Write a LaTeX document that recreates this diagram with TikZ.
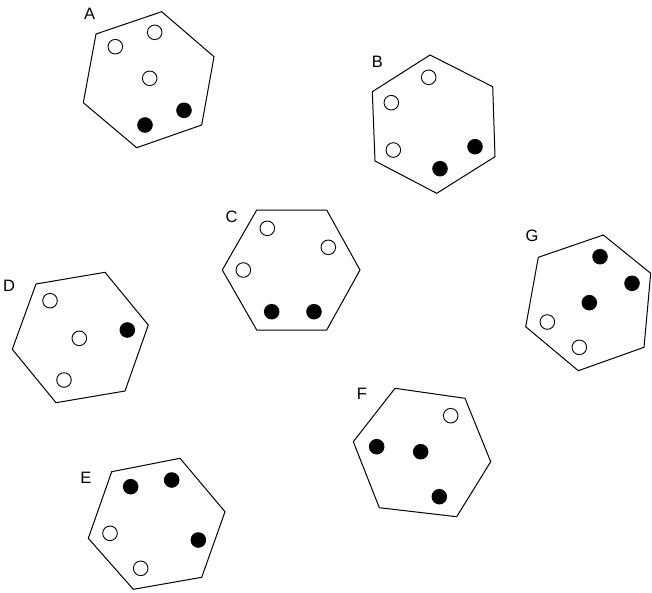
\documentclass[tikz,border=0pt]{standalone}
\usepackage{fontspec}
\setmainfont{Liberation Sans}
\begin{document}
\begin{tikzpicture}[x=1pt,y=-1pt,
  hexa/.style={draw=black,line width=1pt,line join=miter},
  wdot/.style={draw=black,fill=white,line width=0.9pt},
  bdot/.style={draw=black,fill=black,line width=0.9pt},
  lbl/.style={font=\fontsize{16.5}{16.5}\selectfont,inner sep=0pt,anchor=center}]
\useasboundingbox (0,0) rectangle (652,592);
% A
\draw[hexa] (96,34) -- (161.7,11.7) -- (214,56.7) -- (201.7,125) -- (136.7,147.7) -- (83.3,102.7) -- cycle;
\node[lbl] (labA) at (89.7,13.7) {A};
\draw[wdot] (115.3,46.7) circle (7.3);
\draw[wdot] (154.7,32.3) circle (7.3);
\draw[wdot] (149.7,78.3) circle (7.3);
\draw[bdot] (145,125) circle (7.3);
\draw[bdot] (184,110.3) circle (7.3);
% B
\draw[hexa] (430,55) -- (492.7,86.7) -- (495,156.7) -- (436.7,193.3) -- (375,161) -- (372.3,91.7) -- cycle;
\node[lbl] (labB) at (377.3,61.5) {B};
\draw[wdot] (428.7,77.3) circle (7.3);
\draw[wdot] (391.3,102.7) circle (7.3);
\draw[wdot] (393.3,150) circle (7.3);
\draw[bdot] (440,168.7) circle (7.3);
\draw[bdot] (475,146.7) circle (7.3);
% C
\draw[hexa] (256.7,210) -- (326.7,210) -- (360,270) -- (326.7,330) -- (256.7,330) -- (222.3,270) -- cycle;
\node[lbl] (labC) at (231.7,216.7) {C};
\draw[wdot] (267.3,228.3) circle (7.3);
\draw[wdot] (328.3,247.3) circle (7.3);
\draw[wdot] (243.3,270) circle (7.3);
\draw[bdot] (271.7,311.7) circle (7.3);
\draw[bdot] (314,311.7) circle (7.3);
% D
\draw[hexa] (36,284) -- (105,272.3) -- (148.3,325) -- (125,391) -- (56,402.7) -- (12.3,349.3) -- cycle;
\node[lbl] (labD) at (9,285.7) {D};
\draw[wdot] (50,300.7) circle (7.3);
\draw[wdot] (79.3,338.3) circle (7.3);
\draw[wdot] (64,380) circle (7.3);
\draw[bdot] (127.3,330) circle (7.3);
% G
\draw[hexa] (538.3,257.3) -- (603.3,235) -- (650.7,273.3) -- (644,347.3) -- (578.3,370.7) -- (525.7,326.7) -- cycle;
\node[lbl] (labG) at (532,236.3) {G};
\draw[bdot] (600,256.7) circle (7.3);
\draw[bdot] (632,283.3) circle (7.3);
\draw[bdot] (589.3,302.7) circle (7.3);
\draw[wdot] (547.3,322) circle (7.3);
\draw[wdot] (579.3,347.3) circle (7.3);
% F
\draw[hexa] (395,388.3) -- (465,398.3) -- (490.7,461.7) -- (456.7,516.7) -- (379.3,507.7) -- (353.3,441.7) -- cycle;
\node[lbl] (labF) at (362,394) {F};
\draw[wdot] (450.7,415.7) circle (7.3);
\draw[bdot] (376.7,446.7) circle (7.3);
\draw[bdot] (420.7,451.7) circle (7.3);
\draw[bdot] (439.3,496.7) circle (7.3);
% E
\draw[hexa] (111.7,471.7) -- (180,458.3) -- (225,511.7) -- (201.7,577.3) -- (133.3,589.3) -- (88.3,538.3) -- cycle;
\node[lbl] (labE) at (85.8,477.5) {E};
\draw[bdot] (130.7,486.7) circle (7.3);
\draw[bdot] (171.7,480) circle (7.3);
\draw[bdot] (198.3,540) circle (7.3);
\draw[wdot] (110,533.3) circle (7.3);
\draw[wdot] (140.7,568.3) circle (7.3);
\end{tikzpicture}
\end{document}
